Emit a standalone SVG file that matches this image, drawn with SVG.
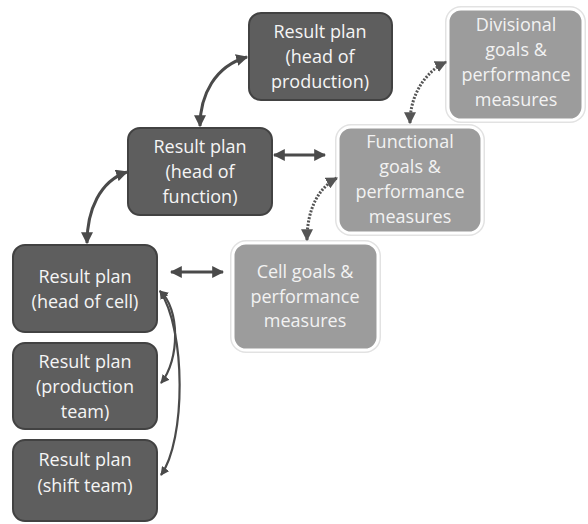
<svg xmlns="http://www.w3.org/2000/svg" width="588" height="524" viewBox="0 0 588 524">
<defs>
<marker id="ah" viewBox="0 0 10 10" refX="9" refY="5" markerWidth="4" markerHeight="4" orient="auto-start-reverse" markerUnits="strokeWidth">
<path d="M0,0 L10,5 L0,10 Z" fill="#4a4a4a"/>
</marker>
<marker id="ahd" viewBox="0 0 10 10" refX="9" refY="5" markerWidth="4" markerHeight="4" orient="auto-start-reverse" markerUnits="strokeWidth">
<path d="M0,0 L10,5 L0,10 Z" fill="#555555"/>
</marker>
</defs>
<style>
.dark rect{fill:#5e5e5e;stroke:#424242;stroke-width:2}
.light .sh{fill:none;stroke:#e2e2e2;stroke-width:6}
.light .bx{fill:#9c9c9c;stroke:#ffffff;stroke-width:3}
text{font-family:"Open Sans","Liberation Sans",sans-serif;font-size:18px;fill:#f5f5f5;text-anchor:middle}
.light text{fill:#f2f2f2}
.c{fill:none;stroke:#4a4a4a;stroke-width:3;marker-start:url(#ah);marker-end:url(#ah)}
.d{fill:none;stroke:#555555;stroke-width:3;stroke-dasharray:2 1.5;marker-start:url(#ahd);marker-end:url(#ahd)}
.t{fill:none;stroke:#4a4a4a;stroke-width:2.2;marker-start:url(#ah);marker-end:url(#ah)}
</style>
<rect width="588" height="524" fill="#ffffff"/>

<g id="head-production" class="dark">
<rect x="249" y="13" width="143" height="87" rx="12"/>
<text x="320" y="38">Result plan</text>
<text x="320" y="63">(head of</text>
<text x="320" y="88">production)</text>
</g>
<g id="head-function" class="dark">
<rect x="128" y="128" width="144" height="87" rx="12"/>
<text x="200" y="153">Result plan</text>
<text x="200" y="178">(head of</text>
<text x="200" y="203">function)</text>
</g>
<g id="head-cell" class="dark">
<rect x="13" y="245" width="144" height="87" rx="12"/>
<text x="85" y="283">Result plan</text>
<text x="85" y="308">(head of cell)</text>
</g>
<g id="production-team" class="dark">
<rect x="13" y="343" width="144" height="86" rx="12"/>
<text x="85" y="368">Result plan</text>
<text x="85" y="393">(production</text>
<text x="85" y="418">team)</text>
</g>
<g id="shift-team" class="dark">
<rect x="13" y="440" width="144" height="81" rx="12"/>
<text x="85" y="466">Result plan</text>
<text x="85" y="492">(shift team)</text>
</g>

<g id="divisional-goals" class="light">
<rect class="sh" x="448" y="9" width="135" height="111" rx="13"/>
<rect class="bx" x="448" y="9" width="135" height="111" rx="13"/>
<text x="516" y="31">Divisional</text>
<text x="516" y="56">goals &amp;</text>
<text x="516" y="81">performance</text>
<text x="516" y="106">measures</text>
</g>
<g id="functional-goals" class="light">
<rect class="sh" x="338" y="127" width="144" height="106" rx="13"/>
<rect class="bx" x="338" y="127" width="144" height="106" rx="13"/>
<text x="410" y="148">Functional</text>
<text x="410" y="173">goals &amp;</text>
<text x="410" y="198">performance</text>
<text x="410" y="223">measures</text>
</g>
<g id="cell-goals" class="light">
<rect class="sh" x="233" y="243" width="145" height="107" rx="13"/>
<rect class="bx" x="233" y="243" width="145" height="107" rx="13"/>
<text x="305" y="278">Cell goals &amp;</text>
<text x="305" y="303">performance</text>
<text x="305" y="327">measures</text>
</g>

<g id="connectors">
<path class="c" d="M200,126 C200,95 215,66 247,57"/>
<path class="c" d="M87,243 C87,210 100,181 127,172"/>
<path class="c" d="M274,155 L325,155"/>
<path class="c" d="M171,272 L223,272"/>
<path class="d" d="M410,123 C410,95 425,72 446,62"/>
<path class="d" d="M307,240 C307,210 318,188 337,178"/>
<path class="t" d="M160,291 C180,308 180,360 161,383"/>
<path class="t" d="M160,291 C186,330 186,440 161,475"/>
</g>
</svg>
